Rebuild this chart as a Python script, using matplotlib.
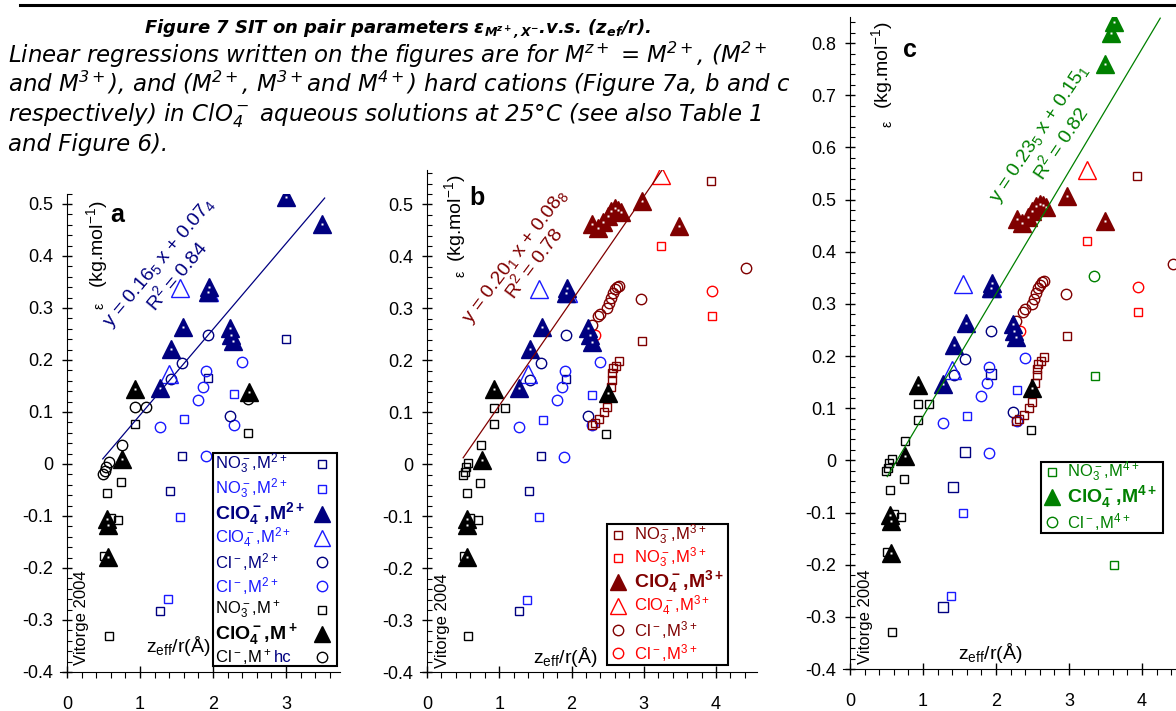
import matplotlib
matplotlib.use("Agg")
import matplotlib.pyplot as plt
import numpy as np
from matplotlib.ticker import MultipleLocator, FuncFormatter
from matplotlib.lines import Line2D
from matplotlib.patches import Rectangle
from matplotlib.transforms import Affine2D

plt.rcParams['font.family'] = ['Liberation Sans', 'DejaVu Sans']
plt.rcParams['mathtext.default'] = 'regular'
plt.rcParams['axes.unicode_minus'] = False

NAVY = '#000080'
BLUE = '#1a1aff'
DRED = '#800000'
RED = '#ff0000'
GREEN = '#008000'

# ---------------- data (z_eff/r , epsilon) ----------------
# M+ (black)
mp_no3_x = [0.93, 2.48, 0.74, 0.55, 0.60, 0.70, 0.51, 0.57]
mp_no3_y = [0.077, 0.059, -0.035, -0.056, -0.103, -0.108, -0.176, -0.33]
mp_hc_x = [0.93, 1.08, 0.75, 0.57, 0.54, 0.52, 0.50]
mp_hc_y = [0.109, 0.109, 0.037, 0.003, -0.005, -0.014, -0.02]
mp_cl_extra_x = [2.48]
mp_cl_extra_y = [0.125]
mp_clo4_x = [0.93, 2.50, 0.76, 0.55, 0.56, 0.56]
mp_clo4_y = [0.145, 0.138, 0.009, -0.105, -0.117, -0.178]

# M2+ (navy / blue)
m2_no3_navy_x = [1.93, 1.58, 1.41, 1.27]
m2_no3_navy_y = [0.165, 0.016, -0.052, -0.282]
m2_no3_blue_x = [2.29, 1.60, 1.55, 1.39]
m2_no3_blue_y = [0.134, 0.086, -0.101, -0.26]
m2_clo4_navy_x = [1.94, 1.93, 1.59, 1.42, 1.27, 2.23, 2.25, 2.28]
m2_clo4_navy_y = [0.34, 0.33, 0.264, 0.221, 0.147, 0.262, 0.248, 0.236]
m2_clo4_blue_x = [1.55, 1.95, 1.40]
m2_clo4_blue_y = [0.338, 0.33, 0.174]
m2_cl_navy_x = [1.93, 1.58, 1.42, 2.23]
m2_cl_navy_y = [0.248, 0.195, 0.163, 0.092]
m2_cl_blue_x = [2.40, 1.91, 1.87, 1.80, 1.27, 2.29, 1.90]
m2_cl_blue_y = [0.197, 0.179, 0.148, 0.123, 0.071, 0.075, 0.015]
# points shown as M2+ only in panel a
a_extra_tri_x = [3.0, 3.5]
a_extra_tri_y = [0.513, 0.462]
a_extra_sq_x = [3.0]
a_extra_sq_y = [0.24]

# M3+ (dark red / red)
m3_clo4_x = [2.97, 3.49, 2.29, 2.36, 2.44, 2.50, 2.55, 2.60, 2.65, 2.68]
m3_clo4_y = [0.507, 0.459, 0.462, 0.455, 0.466, 0.478, 0.487, 0.492, 0.49, 0.485]
m3_clo4_red_x = [3.24]
m3_clo4_red_y = [0.556]
m3_no3_x = [3.93, 2.97, 2.66, 2.62, 2.58, 2.56, 2.56, 2.54, 2.49, 2.45, 2.38, 2.32, 2.28]
m3_no3_y = [0.545, 0.238, 0.198, 0.19, 0.185, 0.175, 0.163, 0.148, 0.111, 0.10, 0.087, 0.08, 0.076]
m3_no3_red_x = [3.24, 3.95]
m3_no3_red_y = [0.42, 0.285]
m3_cl_x = [4.42, 2.96, 2.28, 2.37, 2.40, 2.49, 2.52, 2.55, 2.57, 2.60, 2.63, 2.66]
m3_cl_y = [0.377, 0.318, 0.268, 0.285, 0.29, 0.30, 0.31, 0.32, 0.33, 0.337, 0.341, 0.343]
m3_cl_red_x = [3.95, 2.33]
m3_cl_red_y = [0.333, 0.248]

# M4+ (green)
m4_no3_x = [3.35, 3.61]
m4_no3_y = [0.162, -0.20]
m4_clo4_x = [3.61, 3.57, 3.49]
m4_clo4_y = [0.84, 0.82, 0.76]
m4_cl_x = [3.34]
m4_cl_y = [0.354]

# linear regressions: slope, intercept, x range
fit_a = (0.165, -0.071, 0.49, 3.53)
fit_b = (0.201, -0.088, 0.50, 3.30)
fit_c = (0.235, -0.151, 0.51, 4.25)

W, H = 1176, 711
fig = plt.figure(figsize=(W / 100, H / 100), dpi=100)
# figure pixels, origin top-left
pix = Affine2D().scale(1.0 / W, -1.0 / H).translate(0, 1) + fig.transFigure


def panel(x0, x1, ytop, ybot, xlim, ylim):
    ax = fig.add_axes([x0 / W, 1 - ybot / H, (x1 - x0) / W, (ybot - ytop) / H])
    ax.set_xlim(xlim)
    ax.set_ylim(ylim)
    ax.patch.set_alpha(0)
    ax.spines['top'].set_visible(False)
    ax.spines['right'].set_visible(False)
    ax.spines['left'].set_position(('data', 0))
    ax.xaxis.set_major_locator(MultipleLocator(1))
    ax.xaxis.set_minor_locator(MultipleLocator(0.2))
    ax.yaxis.set_major_locator(MultipleLocator(0.1))
    ax.yaxis.set_minor_locator(MultipleLocator(0.02))
    ax.xaxis.set_major_formatter(FuncFormatter(lambda v, p: '%d' % round(v)))
    ax.yaxis.set_major_formatter(FuncFormatter(lambda v, p: '0' if abs(v) < 1e-9 else '%.1f' % v))
    ax.tick_params(axis='y', which='major', direction='inout', length=7, width=1, labelsize=13, pad=6.5)
    ax.tick_params(axis='y', which='minor', direction='in', length=3.5, width=0.8)
    ax.tick_params(axis='x', which='major', direction='inout', length=8, width=1, labelsize=13, pad=13)
    ax.tick_params(axis='x', which='minor', direction='out', length=4, width=0.8)
    return ax


def pts(ax, xs, ys, marker, color, ms, filled=False, mew=1.0, label=None, dots=False, z=2):
    h, = ax.plot(xs, ys, ls='none', marker=marker, ms=ms, mfc=color if filled else 'none',
                 mec=color, mew=mew, label=label, zorder=z)
    if dots:
        ax.plot(xs, ys, ls='none', marker='s', ms=1.6, mfc='white', mec='none', zorder=z + 0.1)
    return h


def common(ax, hc_marker, hc_ms, navy_sq_ms):
    hs = {}
    hs['mp_no3'] = pts(ax, mp_no3_x, mp_no3_y, 's', 'black', 5.5)
    hs['mp_hc'] = pts(ax, mp_hc_x, mp_hc_y, hc_marker, 'black', hc_ms)
    hs['m2_no3_blue'] = pts(ax, m2_no3_blue_x, m2_no3_blue_y, 's', BLUE, 5.5)
    hs['m2_no3_navy'] = pts(ax, m2_no3_navy_x, m2_no3_navy_y, 's', NAVY, navy_sq_ms)
    hs['m2_cl_blue'] = pts(ax, m2_cl_blue_x, m2_cl_blue_y, 'o', BLUE, 7.5)
    hs['m2_cl_navy'] = pts(ax, m2_cl_navy_x, m2_cl_navy_y, 'o', NAVY, 7.5)
    hs['m2_clo4_blue'] = pts(ax, m2_clo4_blue_x, m2_clo4_blue_y, '^', BLUE, 13)
    hs['m2_clo4_navy'] = pts(ax, m2_clo4_navy_x, m2_clo4_navy_y, '^', NAVY, 13, filled=True,
                             dots=True, z=2.2)
    hs['mp_clo4'] = pts(ax, mp_clo4_x, mp_clo4_y, '^', 'black', 13, filled=True, dots=True, z=2.3)
    return hs


def m3(ax):
    hs = {}
    hs['no3'] = pts(ax, m3_no3_x, m3_no3_y, 's', DRED, 5.5)
    hs['no3_red'] = pts(ax, m3_no3_red_x, m3_no3_red_y, 's', RED, 5.5)
    hs['cl'] = pts(ax, m3_cl_x, m3_cl_y, 'o', DRED, 7.5)
    hs['cl_red'] = pts(ax, m3_cl_red_x, m3_cl_red_y, 'o', RED, 7.5)
    hs['clo4_red'] = pts(ax, m3_clo4_red_x, m3_clo4_red_y, '^', RED, 13)
    hs['clo4'] = pts(ax, m3_clo4_x, m3_clo4_y, '^', DRED, 13, filled=True, dots=True, z=2.2)
    return hs


def fit_line(ax, fit, color):
    s, b, x0, x1 = fit
    xs = np.array([x0, x1])
    ax.plot(xs, s * xs + b, color=color, lw=0.9, zorder=3)


def labels(ax, lx, ly, ex, ey, vx, vy, zx, zy, letter, px, py):
    ax.text(lx, ly, r'(kg.mol$^{-1}$)', rotation=90, ha='center', va='center', fontsize=14)
    ax.text(ex, ey, 'ε', rotation=90, ha='center', va='center', fontsize=10)
    ax.text(vx, vy, 'Vitorge 2004', rotation=90, ha='center', va='center', fontsize=12)
    ax.text(zx, zy, r'z$_{eff}$/r(Å)', ha='center', va='center', fontsize=14)
    ax.text(px, py, letter, ha='center', va='center', fontsize=18, fontweight='bold')


def box_legend(ax, box, rows, mx, tx):
    # rows: (handle, label, colour, fontsize, bold, y) in figure pixels
    x0, y0, x1, y1 = box
    ax.add_patch(Rectangle((x0, y0), x1 - x0, y1 - y0, transform=pix, facecolor='white',
                           edgecolor='black', lw=1.5, clip_on=False, zorder=5))
    for h, label, color, size, bold, y in rows:
        ms = h.get_markersize()
        if h.get_marker() == '^':
            ms = 11.5
        ax.plot([mx], [y], transform=pix, ls='none', marker=h.get_marker(), ms=ms,
                mfc=h.get_markerfacecolor(), mec=h.get_markeredgecolor(),
                mew=h.get_markeredgewidth(), clip_on=False, zorder=6)
        ax.text(tx, y, label, transform=pix, color=color, fontsize=size,
                fontweight='bold' if bold else 'normal', ha='left', va='center', zorder=6)


# ---------------- panel a ----------------
ax_a = panel(59.7, 340, 193.6, 672, (-0.1, 3.74), (-0.4, 0.52))
ha = common(ax_a, 'o', 7.5, 5.5)
pts(ax_a, mp_cl_extra_x, mp_cl_extra_y, 'o', 'black', 7.5, z=1.9)
pts(ax_a, a_extra_sq_x, a_extra_sq_y, 's', NAVY, 5.5)
pts(ax_a, a_extra_tri_x, a_extra_tri_y, '^', NAVY, 13, filled=True, dots=True, z=2.2)
fit_line(ax_a, fit_a, NAVY)
ax_a.text(1.27, 0.386, r'y = 0.16$_5$ x + 0.07$_4$', rotation=50, rotation_mode='anchor',
          ha='center', va='center', fontsize=14, color=NAVY)
ax_a.text(1.50, 0.363, r'R$^2$ = 0.84', rotation=50, rotation_mode='anchor',
          ha='center', va='center', fontsize=14, color=NAVY)
labels(ax_a, 0.41, 0.423, 0.45, 0.305, 0.2, -0.296, 1.52, -0.35, 'a', 0.69, 0.478)
rows_a = [
    (ha['m2_no3_navy'], r'NO$_3^-$,M$^{2+}$', NAVY, 12, False, 464),
    (ha['m2_no3_blue'], r'NO$_3^-$,M$^{2+}$', BLUE, 12, False, 489),
    (ha['m2_clo4_navy'], r'ClO$_4^-$,M$^{2+}$', NAVY, 14, True, 514),
    (ha['m2_clo4_blue'], r'ClO$_4^-$,M$^{2+}$', BLUE, 12, False, 538),
    (ha['m2_cl_navy'], r'Cl$^-$,M$^{2+}$', NAVY, 12, False, 562),
    (ha['m2_cl_blue'], r'Cl$^-$,M$^{2+}$', BLUE, 12, False, 586),
    (ha['mp_no3'], r'NO$_3^-$,M$^+$', 'black', 12, False, 610),
    (ha['mp_clo4'], r'ClO$_4^-$,M$^+$', 'black', 14, True, 634),
    (ha['mp_hc'], r'Cl$^-$,M$^+$', 'black', 12, False, 657),
]
box_legend(ax_a, (213, 453, 337, 666), rows_a, 322, 215)
ax_a.text(274, 657, 'hc', transform=pix, color=NAVY, fontsize=12, ha='left', va='center', zorder=6)

# ---------------- panel b ----------------
ax_b = panel(419.8, 756.5, 170, 672.3, (-0.1, 4.56), (-0.4, 0.566))
common(ax_b, 's', 5.5, 5.5)
hb = m3(ax_b)
fit_line(ax_b, fit_b, DRED)
ax_b.text(1.22, 0.40, r'y = 0.20$_1$ x + 0.08$_8$', rotation=53, rotation_mode='anchor',
          ha='center', va='center', fontsize=14, color=DRED)
ax_b.text(1.47, 0.387, r'R$^2$ = 0.78', rotation=53, rotation_mode='anchor',
          ha='center', va='center', fontsize=14, color=DRED)
labels(ax_b, 0.39, 0.474, 0.46, 0.367, 0.21, -0.30, 1.91, -0.37, 'b', 0.69, 0.512)
rows_b = [
    (hb['no3'], r'NO$_3^-$,M$^{3+}$', DRED, 12, False, 535),
    (hb['no3_red'], r'NO$_3^-$,M$^{3+}$', RED, 12, False, 558),
    (hb['clo4'], r'ClO$_4^-$,M$^{3+}$', DRED, 14, True, 582),
    (hb['clo4_red'], r'ClO$_4^-$,M$^{3+}$', RED, 12, False, 606),
    (hb['cl'], r'Cl$^-$,M$^{3+}$', DRED, 12, False, 630),
    (hb['cl_red'], r'Cl$^-$,M$^{3+}$', RED, 12, False, 653),
]
box_legend(ax_b, (607, 524, 728, 665), rows_b, 618, 634)

# ---------------- panel c ----------------
ax_c = panel(842.7, 1176, 17, 669, (-0.1, 4.466), (-0.4, 0.85))
ax_c.set_zorder(4)
common(ax_c, 's', 5.5, 7)
m3(ax_c)
hc1 = pts(ax_c, m4_no3_x, m4_no3_y, 's', GREEN, 5.5)
hc3 = pts(ax_c, m4_cl_x, m4_cl_y, 'o', GREEN, 7.5)
hc2 = pts(ax_c, m4_clo4_x, m4_clo4_y, '^', GREEN, 13, filled=True, dots=True, z=2.2)
fit_line(ax_c, fit_c, GREEN)
ax_c.text(2.60, 0.627, r'y = 0.23$_5$ x + 0.15$_1$', rotation=56, rotation_mode='anchor',
          ha='center', va='center', fontsize=14, color=GREEN)
ax_c.text(2.88, 0.608, r'R$^2$ = 0.82', rotation=56, rotation_mode='anchor',
          ha='center', va='center', fontsize=14, color=GREEN)
labels(ax_c, 0.44, 0.758, 0.51, 0.646, 0.21, -0.30, 1.92, -0.369, 'c', 0.82, 0.787)
rows_c = [
    (hc1, r'NO$_3^-$,M$^{4+}$', GREEN, 12, False, 472),
    (hc2, r'ClO$_4^-$,M$^{4+}$', GREEN, 14, True, 497),
    (hc3, r'Cl$^-$,M$^{4+}$', GREEN, 12, False, 522),
]
box_legend(ax_c, (1041, 462, 1163, 533), rows_c, 1052, 1067)

# ---------------- caption ----------------
fig.text(398 / W, 1 - 33 / H,
         r'Figure 7 SIT on pair parameters ε$_{M^{z+},X^{-}}$.v.s. (z$_{ef}$/r).',
         ha='center', va='baseline', fontsize=13, fontweight='bold', fontstyle='italic',
         family='DejaVu Sans')
caption = [
    r'Linear regressions written on the figures are for M$^{z+}$ = M$^{2+}$, (M$^{2+}$',
    r'and M$^{3+}$), and (M$^{2+}$, M$^{3+}$and M$^{4+}$) hard cations (Figure 7a, b and c',
    r'respectively) in ClO$_4^-$ aqueous solutions at 25°C (see also Table 1',
    r'and Figure 6).',
]
for i, line in enumerate(caption):
    fig.text(8 / W, 1 - (63 + 29.3 * i) / H, line, ha='left', va='baseline',
             fontsize=16.5, fontstyle='italic', family='DejaVu Sans')

# white band hiding the caption behind panel c
fig.add_artist(Rectangle((789 / W, 0), 1 - 789 / W, 1 - 8 / H, transform=fig.transFigure,
                         facecolor='white', edgecolor='none', zorder=3.5))
fig.add_artist(Line2D([20 / W, 1], [1 - 4.5 / H, 1 - 4.5 / H], transform=fig.transFigure,
                      color='black', lw=2.2, zorder=6))

fig.savefig('out.png', dpi=100)
